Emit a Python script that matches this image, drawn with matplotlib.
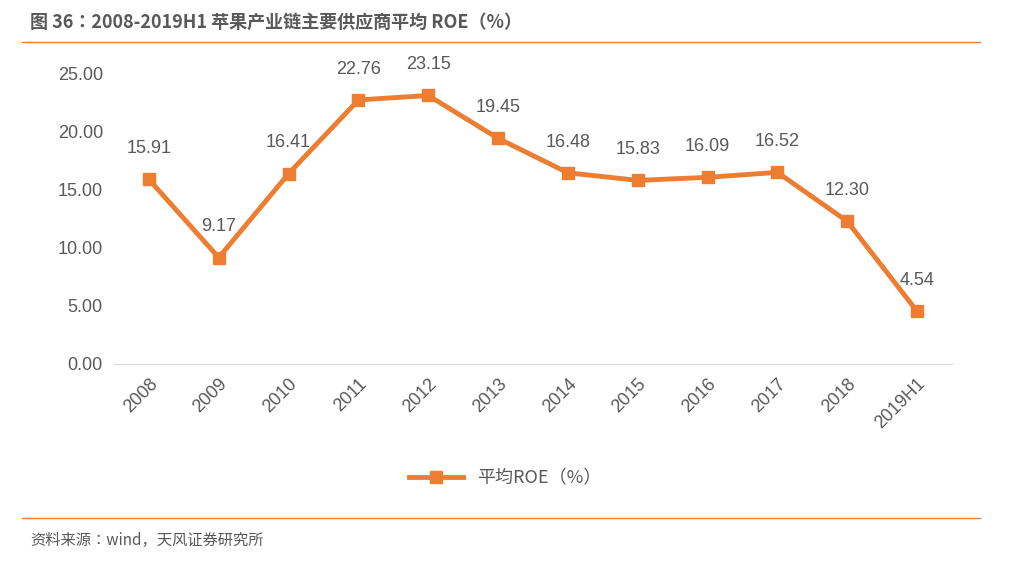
import matplotlib
matplotlib.use("Agg")
import matplotlib.pyplot as plt
from matplotlib.lines import Line2D

plt.rcParams['font.family'] = 'sans-serif'
plt.rcParams['font.sans-serif'] = ['Noto Sans CJK SC', 'Noto Sans CJK JP', 'Noto Sans CJK TC', 'Noto Sans CJK KR', 'DejaVu Sans']

years = ["2008","2009","2010","2011","2012","2013","2014","2015","2016","2017","2018","2019H1"]
roe = [15.91, 9.17, 16.41, 22.76, 23.15, 19.45, 16.48, 15.83, 16.09, 16.52, 12.30, 4.54]
yticks = [0, 5, 10, 15, 20, 25]

W, H = 1011, 563
fig = plt.figure(figsize=(W/100, H/100), dpi=100)
orange = "#ED7D31"
gray = "#595959"

ax = fig.add_axes([114/W, 1-364/H, (952-114)/W, (364-74)/H])
x = list(range(len(years)))
ax.plot(x, roe, color=orange, lw=3.5, marker='s', ms=9)
for xi, v in zip(x, roe):
    ax.annotate(f"{v:.2f}", (xi, v), xytext=(0, 16), textcoords="offset points",
                ha='center', va='bottom', fontsize=13, color=gray, fontfamily='Liberation Sans')
ax.set_xlim(-0.5, len(years)-0.5)
ax.set_ylim(0, 25)
ax.set_yticks(yticks)
ax.set_yticklabels([f"{t:.2f}" for t in yticks], fontsize=13, color=gray, fontfamily='Liberation Sans')
ax.set_xticks(x)
ax.set_xticklabels(years, rotation=45, ha='right', rotation_mode='anchor', fontsize=13, color=gray, fontfamily='Liberation Sans')
for s in ['top', 'right', 'left']:
    ax.spines[s].set_visible(False)
ax.spines['bottom'].set_color('#D9D9D9')
ax.tick_params(length=0, pad=8)

h = Line2D([], [], color=orange, lw=3.5, marker='s', ms=9)
fig.legend([h], ["平均ROE（%）"], loc='center', bbox_to_anchor=(505/W, 1-478/H),
           frameon=False, fontsize=13, labelcolor=gray, handlelength=3)

fig.text(30/W, 1-22/H, "图 36：2008-2019H1 苹果产业链主要供应商平均 ROE（%）", fontsize=13,
         fontweight='bold', color=gray, va='center')
fig.add_artist(Line2D([22/W, 980/W], [1-42/H, 1-42/H], color=orange, lw=1))
fig.add_artist(Line2D([22/W, 980/W], [1-518/H, 1-518/H], color=orange, lw=1))
fig.text(30/W, 1-540/H, "资料来源：wind，天风证券研究所", fontsize=11, color=gray, va='center')

fig.savefig("out.png", dpi=100)
